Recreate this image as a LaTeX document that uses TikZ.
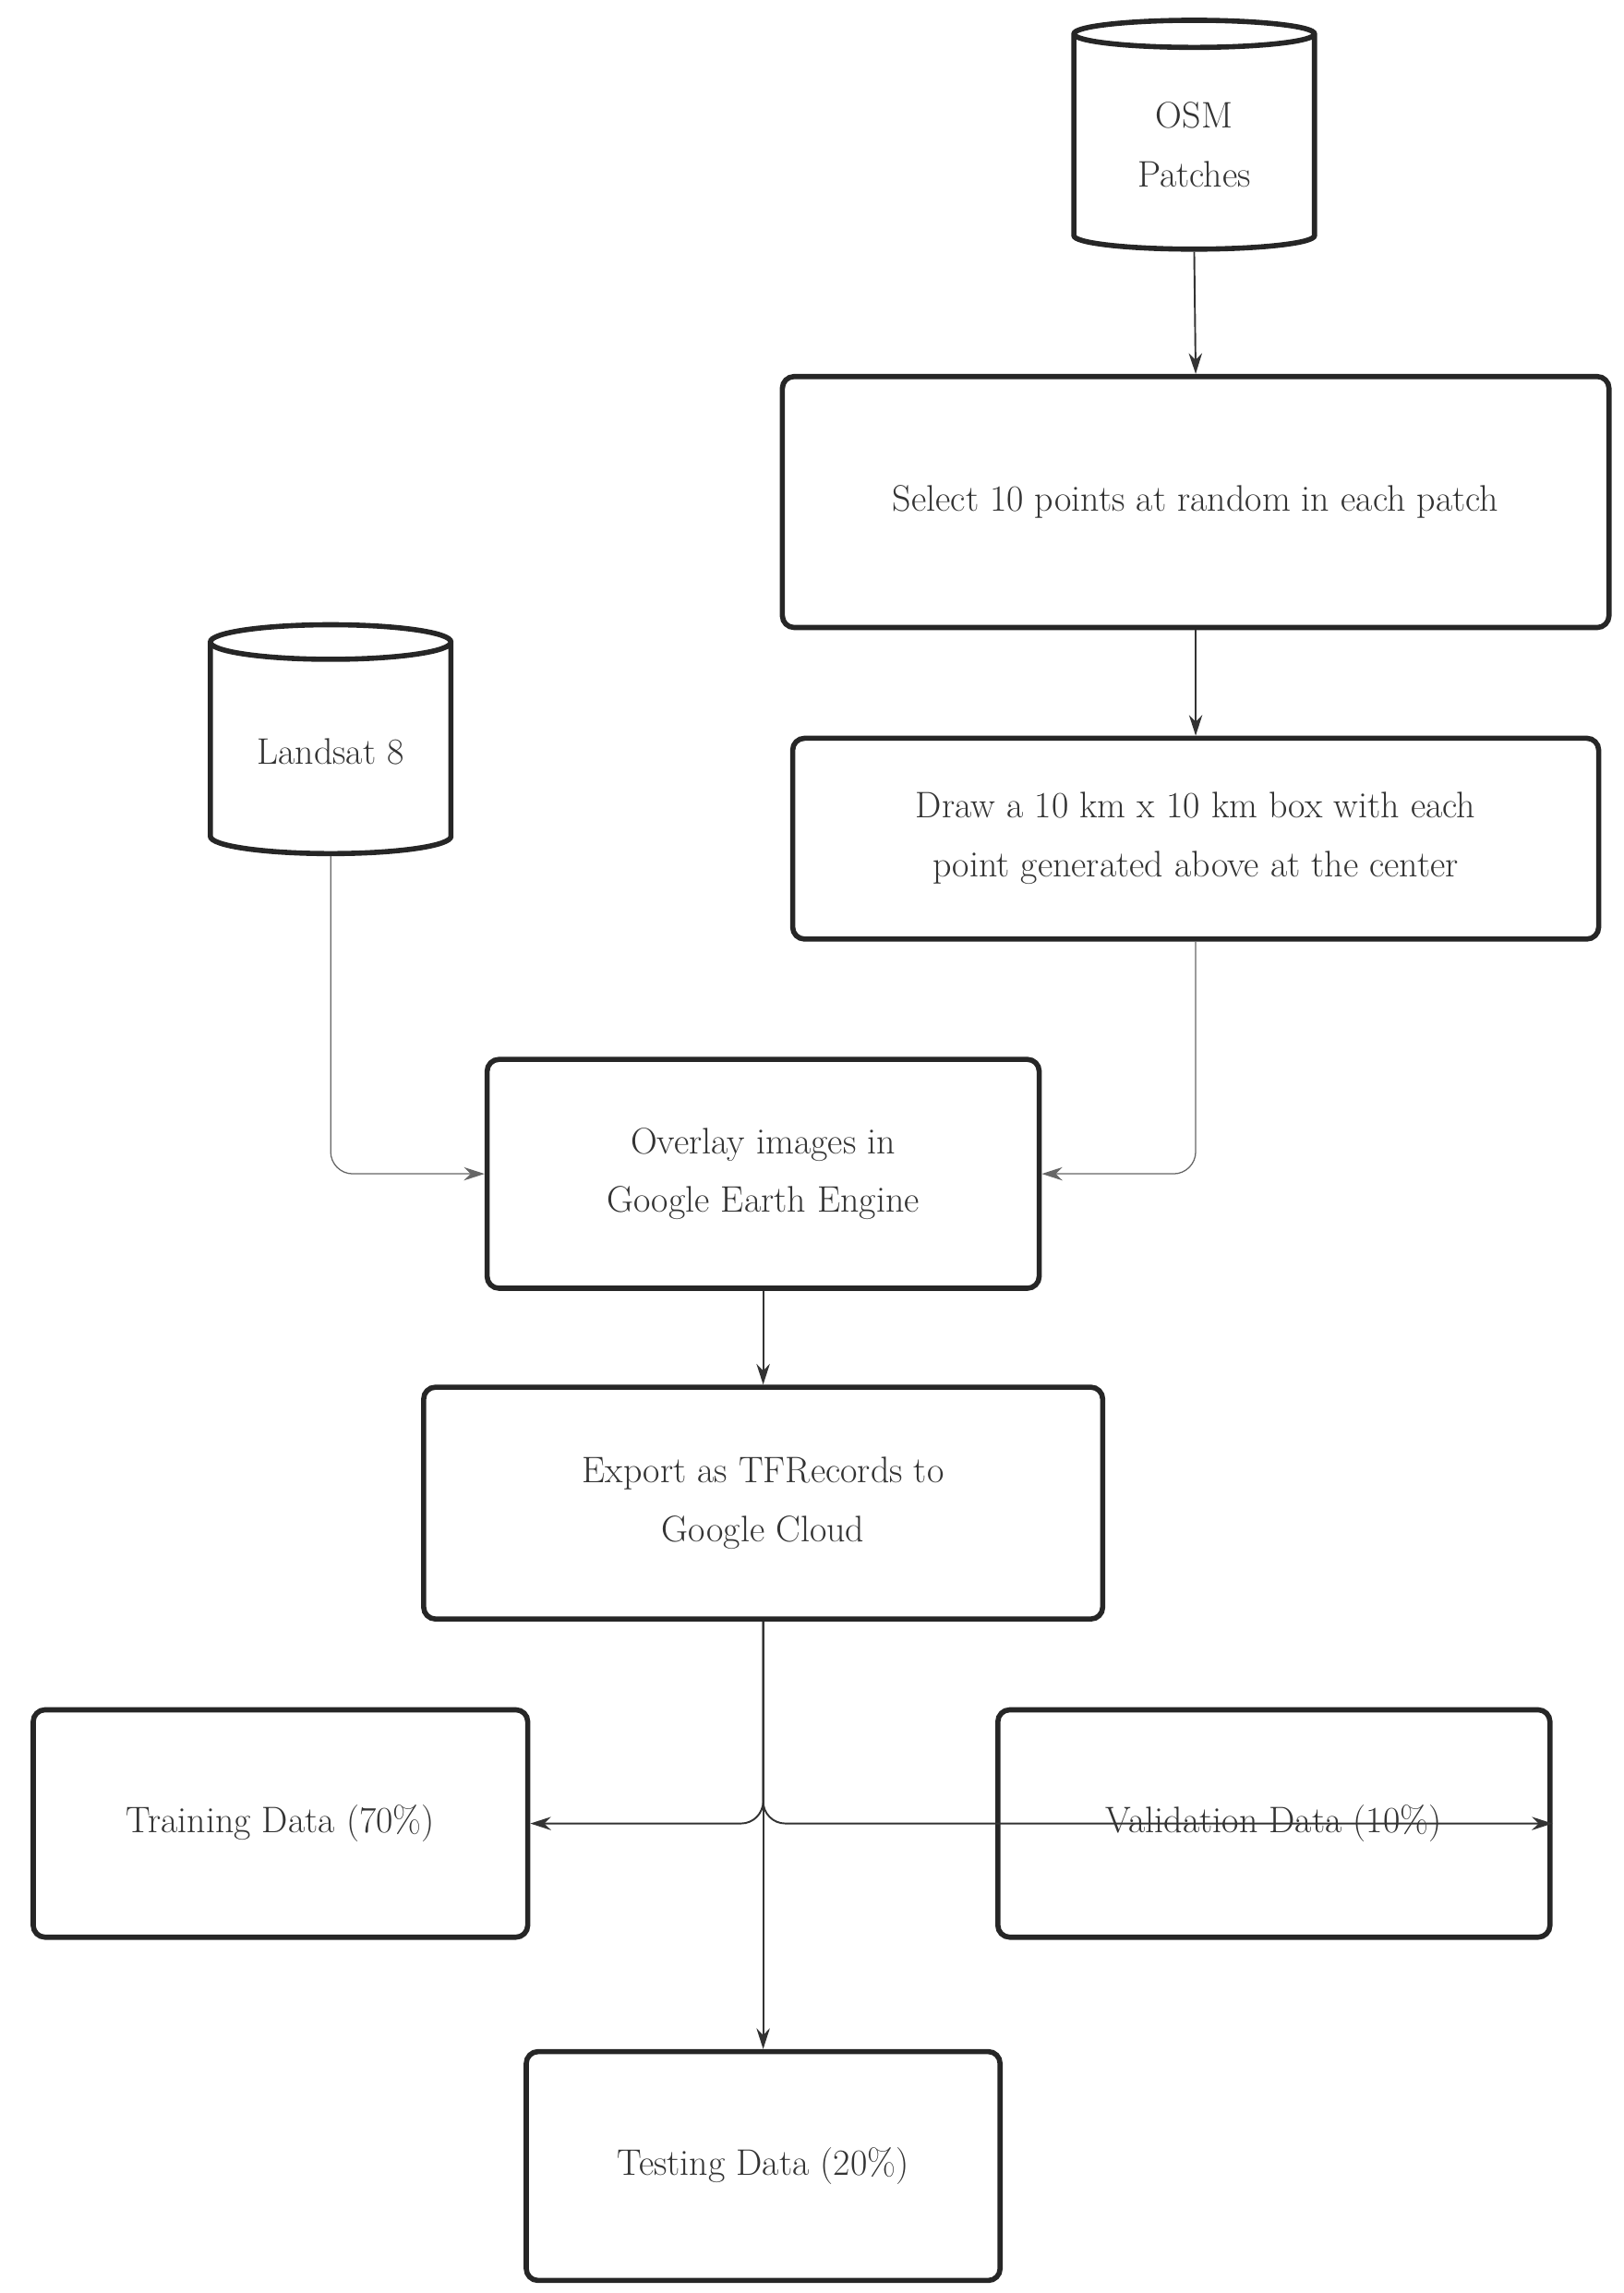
\documentclass[tikz,border=0pt]{standalone}
\usetikzlibrary{shapes.geometric,arrows.meta}
\begin{document}
\begin{tikzpicture}[x=1pt,y=-1pt,
 box/.style={draw=black!85,line width=3.5pt,rounded corners=8pt,align=center,font=\fontsize{25}{40}\selectfont,text=black!80},
 cyl/.style={draw=black!85,line width=3.5pt,cylinder,shape border rotate=90,aspect=0.22,align=center,font=\fontsize{25}{40}\selectfont,text=black!80,minimum width=163pt,minimum height=155pt},
 arr/.style={-{Stealth[length=14pt,width=9pt]},line width=1.2pt,draw=black!80},
 thin/.style={-{Stealth[length=14pt,width=9pt]},line width=0.8pt,draw=black!60,rounded corners=15pt}]
\useasboundingbox (0,0) rectangle (1100,1553);
\node[cyl] (osm) at (809,98) {OSM\\Patches};
\node[cyl] (land) at (224,509) {Landsat 8};
\node[box,minimum width=560pt,minimum height=170pt] (sel) at (810,340) {Select 10 points at random in each patch};
\node[box,minimum width=546pt,minimum height=136pt] (drw) at (810,568) {Draw a 10 km x 10 km box with each\\point generated above at the center};
\node[box,minimum width=374pt,minimum height=155pt] (ov) at (517,795) {Overlay images in\\Google Earth Engine};
\node[box,minimum width=460pt,minimum height=157pt] (ex) at (517,1018) {Export as TFRecords to\\Google Cloud};
\node[box,minimum width=335pt,minimum height=154pt] (tr) at (190,1235) {Training Data (70\%)};
\node[box,minimum width=374pt,minimum height=154pt] (va) at (863,1235) {Validation Data (10\%)};
\node[box,minimum width=321pt,minimum height=155pt] (te) at (517,1467) {Testing Data (20\%)};
\draw[arr] (osm.bottom) -- (sel.north);
\draw[arr] (sel) -- (drw.north);
\draw[thin] (land.bottom) |- (ov.west);
\draw[thin] (drw.south) |- (ov.east);
\draw[arr] (ov) -- (ex.north);
\draw[arr] (ex) -- (te.north);
\draw[arr,rounded corners=15pt] (ex.south) |- (tr.east);
\draw[arr,rounded corners=15pt] (ex.south) |- (va.east);
\end{tikzpicture}
\end{document}
